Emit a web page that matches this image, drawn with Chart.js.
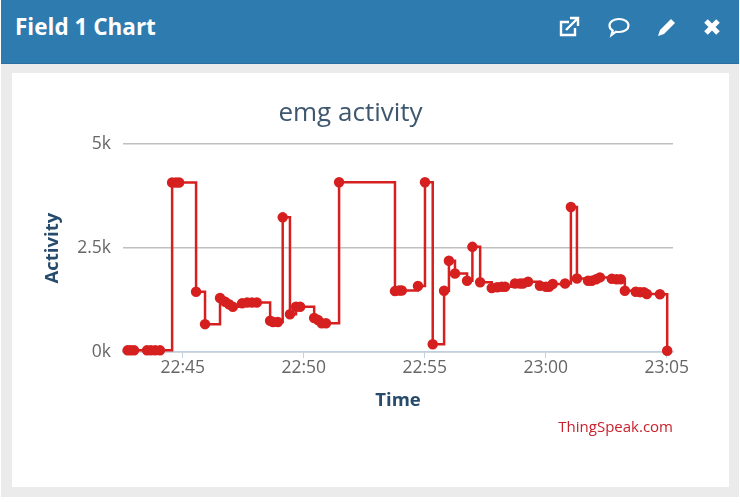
<!DOCTYPE html>
<html>
<head>
<meta charset="utf-8">
<script src="https://cdn.jsdelivr.net/npm/chart.js@4"></script>
<style>
  html, body { margin: 0; padding: 0; background: #fff; }
  #panel { position: absolute; left: 1px; top: 0; width: 738px; height: 497px; background: #ebebeb; }
  #header { position: absolute; left: 0; top: 0; width: 738px; height: 63px; background: #2e7bb0; border-bottom: 1px solid #2a6f9f; }
  #header h3 { position: absolute; left: 14px; top: 11px; margin: 0; color: #fff; font: bold 22.5px "Open Sans", sans-serif; }
  #header svg { position: absolute; top: 15px; width: 24px; height: 24px; }
  #card { position: absolute; left: 11px; top: 73px; width: 717px; height: 414px; background: #fff; }
  #credit { position: absolute; right: 56px; top: 343px; color: #c8202c; font: 15px "Open Sans", sans-serif; }
</style>
</head>
<body>
<div id="panel">
  <div id="header">
    <h3>Field 1 Chart</h3>
    <svg style="left:556px" viewBox="0 0 24 24" fill="none" stroke="#fff" stroke-width="2.4"><path d="M18 13v7H4V7h8"/><path d="M9 15 20 4M13 3h8v8" /></svg>
    <svg style="left:606px" viewBox="0 0 24 24" fill="none" stroke="#fff" stroke-width="2.2"><path d="M12 4c5.500 0 9.500 2.800 9.500 6.500S17.500 17 12 17c-1 0-2 0-3-.3L4.500 20l1.200-4.500C3.500 14.300 2.500 12.500 2.500 10.500 2.500 6.800 6.500 4 12 4z"/></svg>
    <svg style="left:654px" viewBox="0 0 24 24" fill="#fff"><path d="M16 4l4 4-11 11-6 2 2-6z"/></svg>
    <svg style="left:699px" viewBox="0 0 24 24" fill="none" stroke="#fff" stroke-width="5"><path d="M6 6l12 12M18 6 6 18"/></svg>
  </div>
  <div id="card">
    <canvas id="chart" width="716" height="414"></canvas>
    <div id="credit">ThingSpeak.com</div>
  </div>
</div>
<script>
// minutes after 22:45
const minutes = [-2.28, -2.15, -2.01, -1.48, -1.32, -1.14, -0.94, -0.44, -0.28, -0.15,
  0.55, 0.92, 1.54, 1.75, 1.91, 2.07, 2.45, 2.66, 2.86, 3.06,
  3.61, 3.73, 3.93, 4.13, 4.43, 4.68, 4.85, 5.43, 5.59, 5.74,
  5.92, 6.46, 8.77, 8.94, 9.05, 9.72, 10.01, 10.33, 10.80, 11.00,
  11.25, 11.75, 11.97, 12.29, 12.77, 12.99, 13.18, 13.32, 13.73, 13.94,
  14.06, 14.27, 14.76, 15.01, 15.14, 15.29, 15.80, 16.04, 16.29, 16.75,
  16.90, 17.08, 17.24, 17.73, 17.93, 18.10, 18.27, 18.72, 18.90, 19.06,
  19.18, 19.72, 20.02];

const activity = [40, 40, 40, 40, 40, 40, 40, 4080, 4080, 4080,
  1450, 670, 1300, 1210, 1150, 1090, 1170, 1190, 1190, 1190,
  750, 720, 720, 3240, 910, 1090, 1090, 820, 770, 690,
  690, 4085, 1465, 1480, 1480, 1590, 4085, 185, 1475, 2195,
  1890, 1715, 2530, 1680, 1540, 1560, 1570, 1570, 1650, 1650,
  1650, 1690, 1595, 1570, 1570, 1635, 1650, 3490, 1770, 1715,
  1715, 1750, 1795, 1760, 1750, 1750, 1475, 1450, 1440, 1440,
  1395, 1390, 30];

const xTickValues = [0, 5, 10, 15, 20];
const xTickLabels = ["22:45", "22:50", "22:55", "23:00", "23:05"];
const yTickValues = [0, 2500, 5000];
const yTickLabels = ["0k", "2.5k", "5k"];

const tickFont = { family: "Open Sans", size: 17.5 };
const titleFont = { family: "Open Sans", size: 18.5, weight: "bold" };

new Chart(document.getElementById("chart"), {
  type: "line",
  data: {
    datasets: [{
      data: minutes.map((m, i) => ({ x: m, y: activity[i] })),
      stepped: true,
      borderColor: "#d62020",
      backgroundColor: "#d62020",
      borderWidth: 2.5,
      pointRadius: 4,
      clip: false
    }]
  },
  options: {
    responsive: false,
    animation: false,
    layout: { padding: { left: 16, right: 55 } },
    plugins: {
      legend: { display: false },
      tooltip: { enabled: false },
      title: {
        display: true,
        text: "emg activity",
        color: "#3e576f",
        font: { family: "Open Sans", size: 26, weight: "normal", lineHeight: 1.2 },
        padding: { top: 25, bottom: 15 }
      }
    },
    scales: {
      x: {
        type: "linear",
        min: -2.47,
        max: 20.26,
        afterBuildTicks: (s) => { s.ticks = xTickValues.map((v) => ({ value: v })); },
        afterFit: (s) => { s.height = 135; },
        grid: { drawOnChartArea: false, tickLength: 6, tickColor: "#c0d0e0" },
        border: { color: "#c0d0e0", width: 1.5 },
        ticks: {
          autoSkip: false,
          maxRotation: 0,
          color: "#666",
          font: tickFont,
          padding: 0,
          callback: (v) => xTickLabels[xTickValues.indexOf(v)]
        },
        title: { display: true, text: "Time", color: "#274b6d", font: titleFont, padding: { top: 0, bottom: 75 } }
      },
      y: {
        min: 0,
        max: 5000,
        afterBuildTicks: (s) => { s.ticks = yTickValues.map((v) => ({ value: v })); },
        afterFit: (s) => { s.width = 95; },
        grid: { color: "#c0c0c0", lineWidth: 1.5, drawTicks: false },
        border: { display: false },
        ticks: {
          color: "#666",
          font: tickFont,
          padding: 12,
          callback: (v) => yTickLabels[yTickValues.indexOf(v)]
        },
        title: { display: true, text: "Activity", color: "#274b6d", font: titleFont, padding: { top: 14, bottom: 0 } }
      }
    }
  }
});
</script>
</body>
</html>
